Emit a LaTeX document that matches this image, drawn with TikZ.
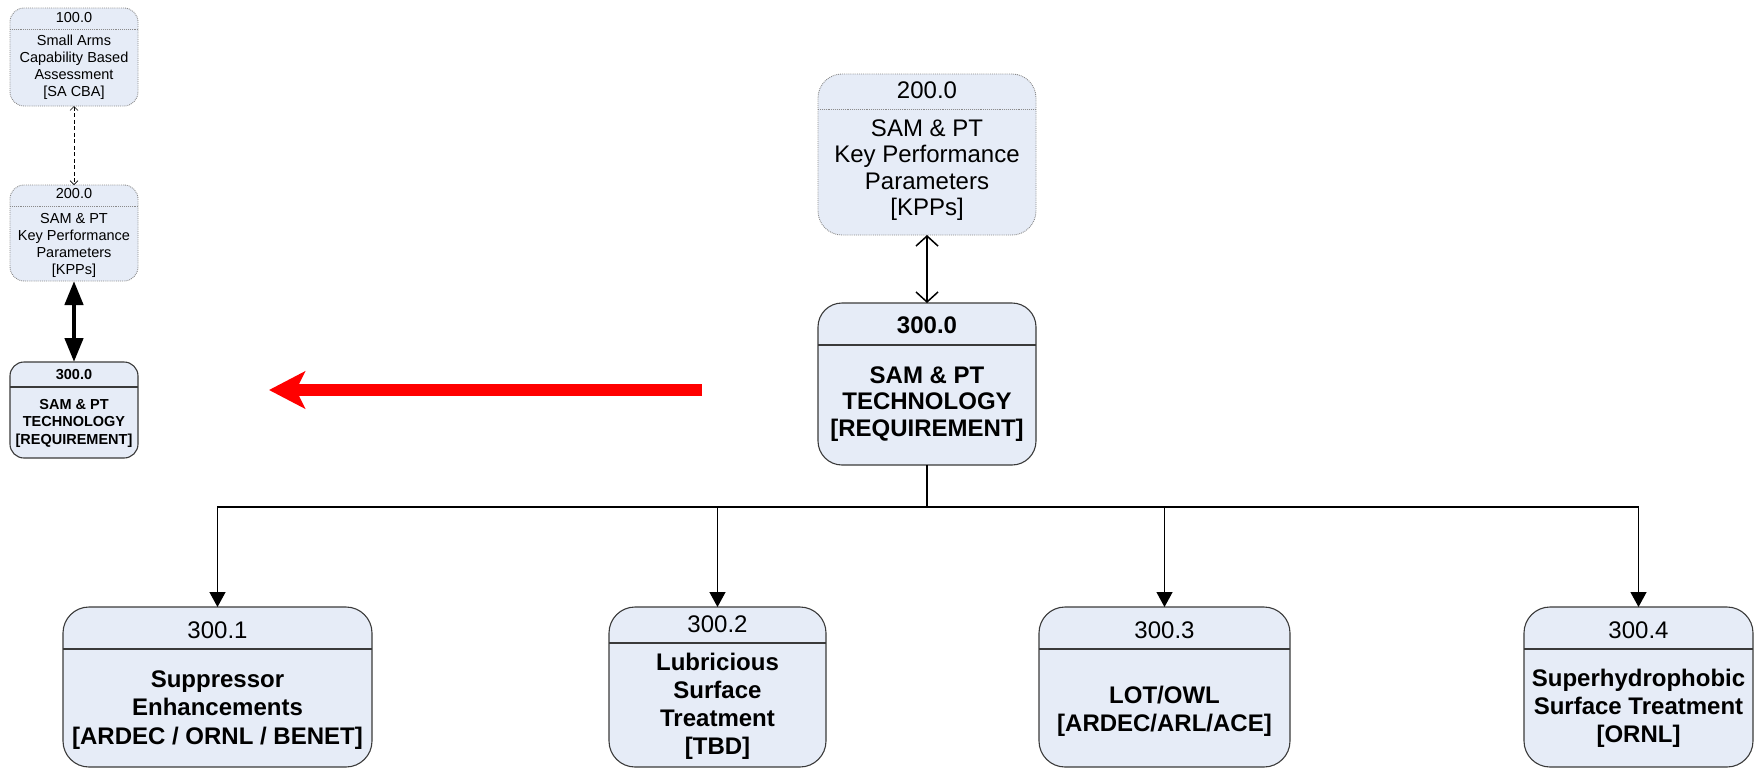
\documentclass[tikz,border=0pt]{standalone}
\usepackage{fontspec}
\setmainfont{Liberation Sans}
\usetikzlibrary{arrows.meta}
\definecolor{boxfill}{HTML}{E6ECF7}
\definecolor{edge}{HTML}{3A3A3A}
\definecolor{faintedge}{HTML}{8A8A8A}

\begin{document}
\begin{tikzpicture}[x=1pt,y=-1pt,
  panel/.style={rectangle, fill=boxfill, anchor=north west, inner sep=0pt, outer sep=0pt},
  firm/.style={panel, draw=edge, line width=1.1pt},
  faint/.style={panel, draw=faintedge, densely dotted, line width=0.9pt},
  firmline/.style={draw=edge, line width=1.1pt},
  faintline/.style={draw=faintedge, densely dotted, line width=0.9pt},
  bigtext/.style={font=\fontsize{24}{26.5}\selectfont, align=center, inner sep=0pt},
  lowtext/.style={font=\fontsize{24}{28.5}\selectfont, align=center, inner sep=0pt},
  smalltext/.style={font=\fontsize{14.5}{17}\selectfont, align=center, inner sep=0pt},
  link/.style={line width=1.3pt, draw=black},
  drop/.style={link, -{Triangle[length=15pt,width=16pt]}},
]
\useasboundingbox (0,0) rectangle (1754,769);

% ---------- small stack on the left ----------
\node[faint, rounded corners=14pt, minimum width=128pt, minimum height=98pt] (s100) at (10,8) {};
\draw[faintline] (10,29) -- (138,29);
\node[smalltext] at (74,18) {100.0};
\node[smalltext] at (74,67) {Small Arms\\Capability Based\\Assessment\\{[SA CBA]}};

\node[faint, rounded corners=14pt, minimum width=128pt, minimum height=96pt] (s200) at (10,185) {};
\draw[faintline] (10,206) -- (138,206);
\node[smalltext] at (74,194) {200.0};
\node[smalltext] at (74,245) {SAM \& PT\\Key Performance\\Parameters\\{[KPPs]}};

\node[firm, rounded corners=14pt, minimum width=128pt, minimum height=96pt] (s300) at (10,362) {};
\draw[firmline] (10,387) -- (138,387);
\node[smalltext, font=\fontsize{14.5}{17}\selectfont\bfseries] at (74,375) {300.0};
\node[smalltext, font=\fontsize{14.5}{17.5}\selectfont\bfseries] at (74,423) {SAM \& PT\\TECHNOLOGY\\{[REQUIREMENT]}};

\draw[line width=0.7pt, dashed, dash pattern=on 4pt off 2.5pt,
  {Straight Barb[length=4pt,width=8pt]}-{Straight Barb[length=4pt,width=8pt]}] (s100.south) -- (s200.north);
\draw[line width=4.5pt,
  {Triangle[length=24pt,width=18pt]}-{Triangle[length=24pt,width=18pt]}] (s200.south) -- (s300.north);

% ---------- red pointer ----------
\coordinate (redtail) at (702,390);
\coordinate (redtip) at (269,390);
\draw[red, line width=12pt, -{Stealth[length=36pt,width=37pt,inset=9pt]}] (redtail) -- (redtip);

% ---------- main tree ----------
\node[faint, rounded corners=24pt, minimum width=218pt, minimum height=161pt] (k200) at (818,74) {};
\draw[faintline] (818,109) -- (1036,109);
\node[bigtext] at (927,90) {200.0};
\node[bigtext] at (927,170) {SAM \& PT\\Key Performance\\Parameters\\{[KPPs]}};

\node[firm, rounded corners=24pt, minimum width=218pt, minimum height=162pt] (k300) at (818,303) {};
\draw[firmline] (818,345) -- (1036,345);
\node[bigtext, font=\fontsize{24}{26.5}\selectfont\bfseries] at (927,325) {300.0};
\node[bigtext, font=\fontsize{24}{26.5}\selectfont\bfseries] at (927,404) {SAM \& PT\\TECHNOLOGY\\{[REQUIREMENT]}};

\draw[link, line width=1.5pt,
  {Straight Barb[length=10pt,width=22pt]}-{Straight Barb[length=10pt,width=22pt]}] (k200.south) -- (k300.north);

% children
\node[firm, rounded corners=26pt, minimum width=309pt, minimum height=160pt] (c1) at (63,607) {};
\draw[firmline] (63,649) -- (372,649);
\node[lowtext] at (217.5,630) {300.1};
\node[lowtext, font=\fontsize{24}{28.5}\selectfont\bfseries] at (217.5,710) {Suppressor\\Enhancements\\{[ARDEC / ORNL / BENET]}};

\node[firm, rounded corners=26pt, minimum width=217pt, minimum height=160pt] (c2) at (609,607) {};
\draw[firmline] (609,643) -- (826,643);
\node[lowtext] at (717.5,624) {300.2};
\node[lowtext, font=\fontsize{24}{28}\selectfont\bfseries] at (717.5,706) {Lubricious\\Surface\\Treatment\\{[TBD]}};

\node[firm, rounded corners=26pt, minimum width=251pt, minimum height=160pt] (c3) at (1039,607) {};
\draw[firmline] (1039,649) -- (1290,649);
\node[lowtext] at (1164.5,630) {300.3};
\node[lowtext, font=\fontsize{24}{28}\selectfont\bfseries] at (1164.5,711) {LOT/OWL\\{[ARDEC/ARL/ACE]}};

\node[firm, rounded corners=26pt, minimum width=229pt, minimum height=160pt] (c4) at (1524,607) {};
\draw[firmline] (1524,649) -- (1753,649);
\node[lowtext] at (1638.5,630) {300.4};
\node[lowtext, font=\fontsize{24}{28}\selectfont\bfseries] at (1638.5,708) {Superhydrophobic\\Surface Treatment\\{[ORNL]}};

% connectors from the requirement box to each child
\coordinate (hub) at (927,507);
\draw[link] (k300.south) -- (hub);
\draw[drop] (hub) -| (c1.north);
\draw[drop] (hub) -| (c2.north);
\draw[drop] (hub) -| (c3.north);
\draw[drop] (hub) -| (c4.north);
\end{tikzpicture}
\end{document}
